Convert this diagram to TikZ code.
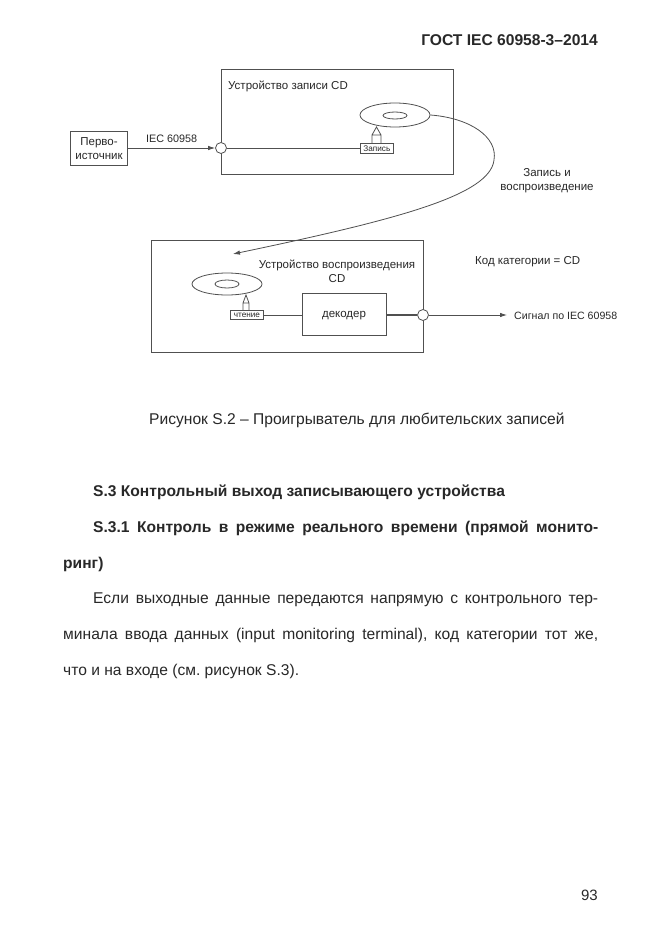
\documentclass[tikz,border=0pt]{standalone}
\usepackage{fontspec}
\setmainfont{Liberation Sans}
\usetikzlibrary{calc,shapes.geometric,arrows.meta}
\definecolor{gostline}{RGB}{80,80,80}
\definecolor{gosttext}{RGB}{40,40,40}
\frenchspacing
\begin{document}
\begin{tikzpicture}[x=1pt,y=-1pt,
  every node/.style={font=\fontsize{11.5}{12}\selectfont,text=gosttext,inner sep=0pt,align=center},
  device/.style={draw=gostline,line width=1.2pt,rectangle,anchor=north west},
  disc/.style={draw=gostline,ellipse,line width=0.8pt,fill=white},
  port/.style={draw=gostline,circle,line width=0.8pt,fill=white,minimum size=11pt},
  tag/.style={draw=gostline,line width=0.8pt,fill=white,font=\fontsize{8.2}{9}\selectfont,anchor=north west},
  link/.style={gostline,line width=0.8pt},
  flow/.style={link,-{Latex[length=7pt,width=4.5pt]}},
  body/.style={font=\fontsize{15.6}{17}\selectfont,anchor=west},
  head/.style={font=\fontsize{15.6}{17}\selectfont\bfseries,anchor=west}]
\useasboundingbox[fill=white] (0,0) rectangle (661,936);

\node[font=\fontsize{15.6}{17}\selectfont\bfseries,anchor=east] (gost) at (598,40) {ГОСТ IEC 60958-3–2014};

% recorder
\node[device,minimum width=232pt,minimum height=105pt] (recorder) at (221,69) {};
\node[anchor=west] (recordertitle) at (228,86.5) {Устройство записи CD};
\node[device,line width=1.1pt,minimum width=57pt,minimum height=34pt,align=center,fill=white] (source) at (70,131) {Перво-\\[2pt]источник};
\node[port] (recin) at (221,148) {};
\node[disc,minimum width=70pt,minimum height=24pt] (disc1) at (395,115) {};
\node[disc,minimum width=24pt,minimum height=7pt] (hole1) at (395,115.5) {};
\node[tag,minimum width=33pt,minimum height=10pt] (writetag) at (360,143) {Запись};
\coordinate (writetip) at (376.5,127);
\draw[link] (372,143)--(372,135)--(writetip)--(381,135)--(381,143) (372,135)--(381,135);

\draw[flow] (source.east|-recin) -- (recin.west) node[midway,above=4.5pt,font=\fontsize{10.8}{12}\selectfont] (ieclabel) {IEC 60958};
\draw[link] (recin.east) -- (writetag.west|-recin);

% transfer
\coordinate (curvetip) at (233,254);
\draw[flow] (disc1.east) .. controls (470,118) and (498,137) .. (494,160)
  .. controls (490,195) and (400,219) .. (curvetip);
\node (transfer) at (547,181) {Запись и\\[2pt]воспроизведение};
\node[anchor=west] (category) at (475,261.5) {Код категории = CD};

% player
\node[device,minimum width=272pt,minimum height=112pt] (player) at (151,240) {};
\node (playertitle) at (337,271) {Устройство воспроизведения\\[2pt]CD};
\node[disc,minimum width=70pt,minimum height=22pt] (disc2) at (227,284) {};
\node[disc,minimum width=24pt,minimum height=8pt] (hole2) at (227,284) {};
\node[tag,minimum width=33pt,minimum height=9pt] (readtag) at (230,310) {чтение};
\coordinate (readtip) at (246,295);
\draw[link] (243,310)--(243,303)--(readtip)--(249,303)--(249,310) (243,303)--(249,303);
\node[device,line width=1.1pt,minimum width=84pt,minimum height=42pt] (decoder) at (302,293) {};
\node (decoderlabel) at (344,316) {декодер};
\node[port] (playout) at (423,315) {};
\draw[link] (readtag.east) -- (decoder.west|-readtag.east);
\draw[link,line width=1.1pt] (decoder.east|-playout) -- (playout.west);
\coordinate (signalend) at (507,315);
\draw[flow] (playout.east) -- (signalend);
\node[anchor=west,font=\fontsize{10.6}{12}\selectfont] (signal) at (514,316) {Сигнал по IEC 60958};

% text below
\node[body] (caption) at (149,420) {Рисунок S.2 – Проигрыватель для любительских записей};
\node[head] (s3) at (93,492) {S.3 Контрольный выход записывающего устройства};
\node[head] (s31a) at (93,528) {\makebox[505pt][s]{S.3.1 Контроль в режиме реального времени (прямой монито-}};
\node[head] (s31b) at (63,564) {ринг)};
\node[body] (para1) at (93,600) {\makebox[505pt][s]{Если выходные данные передаются напрямую с контрольного тер-}};
\node[body] (para2) at (63,635) {\makebox[535pt][s]{минала ввода данных (input monitoring terminal), код категории тот же,}};
\node[body] (para3) at (63,671) {что и на входе (см. рисунок S.3).};
\node[font=\fontsize{15}{17}\selectfont,anchor=east] (pagenum) at (598,895) {93};
\end{tikzpicture}
\end{document}
